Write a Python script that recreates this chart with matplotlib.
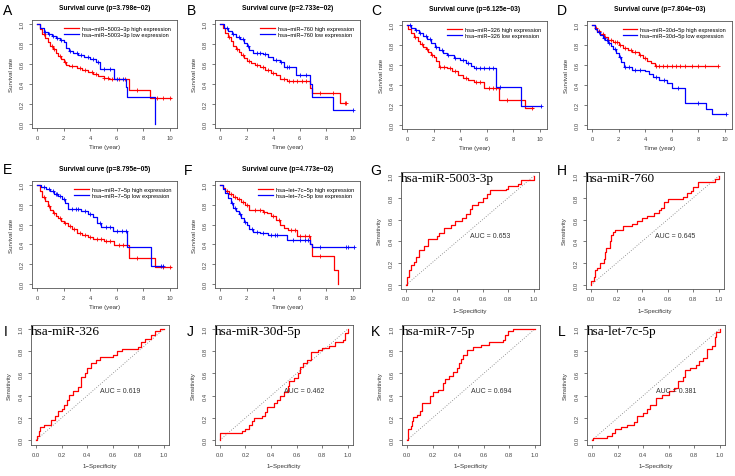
import numpy as np
import matplotlib
matplotlib.use("Agg")
import matplotlib.pyplot as plt

plt.rcParams['font.family'] = ['Liberation Sans', 'DejaVu Sans']

W, H = 735, 477

# ---------------- Survival data (times where step changes, survival after step) ----------------
surv_panels = [
    dict(letter="A", gene="hsa−miR−5003−3p", p="3.798e−02",
         ht=[0, 0.2, 0.4, 0.6, 0.8, 1.0, 1.2, 1.4, 1.6, 1.8, 2.0, 2.2, 2.4, 3.0, 3.4, 3.8, 4.2, 4.6, 5.0, 5.4, 6.9, 8.5],
         hs=[1.0, 0.95, 0.90, 0.86, 0.82, 0.78, 0.75, 0.71, 0.68, 0.65, 0.62, 0.59, 0.58, 0.56, 0.54, 0.52, 0.50, 0.48, 0.46, 0.45, 0.34, 0.26],
         hend=10.1,
         hc=[0.5, 1.1, 1.3, 1.7, 2.1, 2.6, 3.2, 3.6, 4.1, 4.4, 5.0, 5.3, 5.6, 6.2, 6.6, 7.5, 9.0, 9.5, 10.0],
         lt=[0, 0.2, 0.5, 0.8, 1.1, 1.4, 1.7, 2.0, 2.2, 2.4, 2.7, 3.1, 3.5, 4.0, 4.4, 4.7, 5.8, 6.7, 6.8, 8.9],
         ls=[1.0, 0.96, 0.92, 0.90, 0.88, 0.86, 0.84, 0.82, 0.76, 0.73, 0.71, 0.69, 0.67, 0.65, 0.62, 0.55, 0.45, 0.37, 0.27, 0.0],
         lend=8.9,
         lc=[0.6, 0.9, 1.2, 1.5, 1.8, 2.5, 3.0, 3.3, 3.8, 4.2, 4.6, 5.0, 5.5, 6.0, 6.5]),
    dict(letter="B", gene="hsa−miR−760", p="2.733e−02",
         ht=[0, 0.2, 0.4, 0.6, 0.8, 1.0, 1.2, 1.4, 1.6, 1.8, 2.0, 2.3, 2.6, 3.0, 3.4, 3.8, 4.2, 4.5, 5.0, 6.8, 6.9, 9.0],
         hs=[1.0, 0.96, 0.91, 0.87, 0.83, 0.78, 0.75, 0.72, 0.69, 0.66, 0.63, 0.61, 0.59, 0.57, 0.54, 0.51, 0.49, 0.45, 0.43, 0.36, 0.31, 0.21],
         hend=9.5,
         hc=[0.7, 1.3, 1.7, 2.2, 2.8, 3.2, 3.6, 4.0, 4.8, 5.2, 5.5, 5.8, 6.2, 6.5, 7.5, 8.5, 9.4, 9.5],
         lt=[0, 0.3, 0.6, 0.9, 1.2, 1.5, 1.8, 2.0, 2.2, 2.5, 3.2, 3.6, 4.0, 4.5, 4.8, 5.7, 6.8, 6.9, 8.5],
         ls=[1.0, 0.96, 0.93, 0.90, 0.87, 0.85, 0.81, 0.78, 0.74, 0.71, 0.70, 0.67, 0.64, 0.62, 0.57, 0.49, 0.40, 0.27, 0.14],
         lend=10.0,
         lc=[0.5, 1.0, 1.4, 1.7, 2.1, 2.8, 3.0, 3.4, 4.2, 4.6, 5.0, 5.2, 6.0, 6.5, 10.0]),
    dict(letter="C", gene="hsa−miR−326", p="6.125e−03",
         ht=[0, 0.1, 0.3, 0.5, 0.8, 1.0, 1.2, 1.4, 1.6, 1.8, 2.0, 2.2, 2.4, 3.0, 3.4, 3.8, 4.2, 4.6, 5.0, 5.8, 6.9, 8.9],
         hs=[1.0, 0.96, 0.92, 0.88, 0.84, 0.81, 0.78, 0.76, 0.73, 0.70, 0.68, 0.64, 0.58, 0.57, 0.54, 0.50, 0.47, 0.45, 0.43, 0.37, 0.25, 0.17],
         hend=9.5,
         hc=[0.6, 1.1, 1.5, 1.9, 2.5, 2.8, 3.2, 3.6, 4.4, 5.2, 5.5, 6.2, 6.5, 6.7, 7.5, 9.4],
         lt=[0, 0.3, 0.6, 0.9, 1.2, 1.5, 1.8, 2.1, 2.4, 2.7, 3.0, 3.5, 4.0, 4.4, 4.8, 5.0, 6.7, 8.6],
         ls=[1.0, 0.97, 0.95, 0.92, 0.89, 0.86, 0.82, 0.78, 0.75, 0.72, 0.70, 0.67, 0.65, 0.62, 0.59, 0.57, 0.38, 0.19],
         lend=10.1,
         lc=[0.2, 0.7, 1.0, 1.4, 1.7, 2.2, 2.6, 3.1, 3.6, 4.2, 4.6, 5.2, 5.5, 5.8, 6.2, 6.5, 7.0, 10.1]),
    dict(letter="D", gene="hsa−miR−30d−5p", p="7.804e−03",
         ht=[0, 0.2, 0.4, 0.6, 0.9, 1.2, 1.6, 2.0, 2.3, 2.7, 3.0, 3.5, 3.8, 4.1, 4.4, 4.7],
         hs=[1.0, 0.97, 0.94, 0.91, 0.88, 0.85, 0.83, 0.80, 0.77, 0.75, 0.73, 0.70, 0.67, 0.64, 0.62, 0.59],
         hend=9.5,
         hc=[0.3, 0.5, 0.8, 1.0, 1.4, 1.7, 1.9, 2.1, 2.5, 2.9, 3.2, 3.6, 4.0, 4.8, 5.0, 5.3, 5.6, 6.0, 6.3, 6.6, 7.0, 7.5, 8.0, 8.5, 9.5],
         lt=[0, 0.2, 0.4, 0.6, 0.8, 1.0, 1.2, 1.4, 1.6, 1.8, 2.0, 2.2, 2.4, 3.0, 4.0, 4.3, 4.6, 5.0, 5.6, 6.0, 7.0, 8.6, 9.0],
         ls=[1.0, 0.96, 0.93, 0.90, 0.87, 0.85, 0.82, 0.79, 0.76, 0.72, 0.68, 0.63, 0.58, 0.55, 0.54, 0.51, 0.48, 0.45, 0.42, 0.37, 0.22, 0.16, 0.11],
         lend=10.1,
         lc=[0.5, 0.9, 1.1, 1.3, 1.7, 2.1, 2.5, 2.8, 3.2, 3.6, 4.8, 5.4, 6.5, 8.0, 10.1]),
    dict(letter="E", gene="hsa−miR−7−5p", p="8.795e−05",
         ht=[0, 0.2, 0.4, 0.6, 0.8, 1.0, 1.2, 1.4, 1.6, 1.8, 2.0, 2.3, 2.6, 3.0, 3.4, 3.8, 4.2, 5.0, 5.8, 6.9, 8.9],
         hs=[1.0, 0.94, 0.88, 0.84, 0.79, 0.75, 0.72, 0.69, 0.67, 0.64, 0.62, 0.59, 0.56, 0.52, 0.49, 0.47, 0.45, 0.43, 0.39, 0.26, 0.17],
         hend=10.1,
         hc=[0.5, 0.9, 1.3, 1.7, 2.1, 2.5, 2.8, 3.2, 3.6, 4.0, 4.5, 4.8, 5.2, 5.5, 6.2, 6.5, 7.5, 9.5, 10.0],
         lt=[0, 0.3, 0.7, 1.0, 1.3, 1.6, 1.9, 2.1, 2.3, 3.3, 3.8, 4.2, 4.5, 4.8, 5.7, 6.8, 8.6],
         ls=[1.0, 0.98, 0.96, 0.94, 0.91, 0.89, 0.86, 0.82, 0.76, 0.74, 0.71, 0.68, 0.62, 0.58, 0.54, 0.37, 0.18],
         lend=9.5,
         lc=[0.5, 0.9, 1.2, 1.4, 1.5, 1.7, 2.0, 2.6, 2.9, 3.1, 3.6, 4.0, 4.7, 5.2, 5.5, 6.0, 6.4, 6.7, 9.3, 9.5]),
    dict(letter="F", gene="hsa−let−7c−5p", p="4.773e−02",
         ht=[0, 0.2, 0.4, 0.7, 1.0, 1.3, 1.6, 1.9, 2.2, 3.2, 3.5, 3.8, 4.2, 4.5, 4.8, 5.1, 5.8, 6.8, 6.9, 8.6, 8.9],
         hs=[1.0, 0.97, 0.94, 0.91, 0.88, 0.86, 0.83, 0.80, 0.75, 0.73, 0.72, 0.69, 0.65, 0.60, 0.57, 0.55, 0.48, 0.40, 0.28, 0.14, 0.0],
         hend=8.9,
         hc=[0.5, 0.8, 1.1, 1.4, 1.7, 2.0, 2.6, 3.0, 3.3, 4.0, 4.4, 5.3, 5.6, 6.0, 6.4, 6.7, 7.5],
         lt=[0, 0.2, 0.4, 0.6, 0.8, 1.0, 1.2, 1.4, 1.6, 1.8, 2.0, 2.2, 2.5, 3.0, 3.6, 4.5, 5.0, 6.8, 6.9],
         ls=[1.0, 0.96, 0.92, 0.87, 0.82, 0.77, 0.74, 0.71, 0.67, 0.63, 0.60, 0.56, 0.53, 0.52, 0.50, 0.49, 0.44, 0.40, 0.37],
         lend=10.1,
         lc=[0.9, 1.1, 1.5, 1.9, 2.4, 2.8, 3.2, 3.8, 4.1, 4.3, 5.5, 6.0, 6.4, 6.6, 7.5, 9.5, 9.6, 10.1]),
]

# ---------------- ROC data (staircase vertices) ----------------
roc_panels = [
    dict(letter="G", gene="hsa-miR-5003-3p", auc="0.653",
         fpr=[0, 0.01, 0.02, 0.04, 0.06, 0.08, 0.10, 0.14, 0.17, 0.24, 0.26, 0.30, 0.35, 0.38, 0.44, 0.47, 0.50, 0.52, 0.56, 0.60, 0.63, 0.66, 0.78, 0.80, 0.88, 0.90, 1.0],
         tpr=[0, 0.07, 0.14, 0.18, 0.21, 0.26, 0.32, 0.36, 0.42, 0.45, 0.48, 0.52, 0.55, 0.59, 0.61, 0.65, 0.70, 0.73, 0.76, 0.80, 0.83, 0.87, 0.88, 0.91, 0.93, 0.96, 1.0]),
    dict(letter="H", gene="hsa-miR-760", auc="0.645",
         fpr=[0, 0.0, 0.02, 0.03, 0.05, 0.07, 0.10, 0.11, 0.12, 0.15, 0.16, 0.17, 0.19, 0.25, 0.32, 0.36, 0.40, 0.44, 0.49, 0.53, 0.55, 0.57, 0.60, 0.72, 0.75, 0.78, 0.80, 0.84, 0.94, 0.97, 1.0],
         tpr=[0, 0.04, 0.07, 0.14, 0.16, 0.20, 0.24, 0.30, 0.34, 0.40, 0.46, 0.49, 0.50, 0.54, 0.56, 0.59, 0.61, 0.63, 0.66, 0.69, 0.71, 0.76, 0.79, 0.81, 0.84, 0.86, 0.90, 0.94, 0.94, 0.97, 1.0]),
    dict(letter="I", gene="hsa-miR-326", auc="0.619",
         fpr=[0, 0.01, 0.02, 0.03, 0.06, 0.12, 0.15, 0.17, 0.20, 0.22, 0.24, 0.26, 0.29, 0.33, 0.35, 0.38, 0.40, 0.43, 0.47, 0.50, 0.60, 0.63, 0.67, 0.80, 0.82, 0.85, 0.90, 0.93, 0.97, 1.0],
         tpr=[0, 0.04, 0.08, 0.12, 0.14, 0.18, 0.22, 0.26, 0.28, 0.32, 0.36, 0.41, 0.44, 0.48, 0.57, 0.60, 0.65, 0.69, 0.72, 0.75, 0.77, 0.80, 0.82, 0.84, 0.88, 0.91, 0.95, 0.98, 1.0, 1.0]),
    dict(letter="J", gene="hsa-miR-30d-5p", auc="0.462",
         fpr=[0, 0.0, 0.15, 0.17, 0.20, 0.23, 0.25, 0.27, 0.33, 0.35, 0.37, 0.42, 0.45, 0.47, 0.50, 0.53, 0.54, 0.58, 0.61, 0.63, 0.65, 0.68, 0.71, 0.77, 0.80, 0.85, 0.90, 0.96, 0.98, 1.0],
         tpr=[0, 0.06, 0.06, 0.08, 0.10, 0.14, 0.17, 0.20, 0.22, 0.25, 0.30, 0.33, 0.36, 0.40, 0.43, 0.49, 0.53, 0.56, 0.60, 0.66, 0.69, 0.72, 0.79, 0.81, 0.83, 0.85, 0.88, 0.90, 0.96, 1.0]),
    dict(letter="K", gene="hsa-miR-7-5p", auc="0.694",
         fpr=[0, 0.01, 0.01, 0.03, 0.04, 0.05, 0.08, 0.10, 0.12, 0.17, 0.18, 0.20, 0.24, 0.28, 0.30, 0.33, 0.36, 0.39, 0.41, 0.42, 0.44, 0.47, 0.52, 0.58, 0.64, 0.75, 0.77, 0.79, 0.83, 1.0],
         tpr=[0, 0.05, 0.10, 0.13, 0.17, 0.21, 0.23, 0.26, 0.33, 0.33, 0.40, 0.43, 0.45, 0.51, 0.55, 0.58, 0.61, 0.65, 0.69, 0.73, 0.77, 0.81, 0.84, 0.86, 0.88, 0.90, 0.95, 0.98, 1.0, 1.0]),
    dict(letter="L", gene="hsa-let-7c-5p", auc="0.381",
         fpr=[0, 0.01, 0.11, 0.12, 0.16, 0.18, 0.23, 0.27, 0.33, 0.35, 0.40, 0.43, 0.45, 0.50, 0.55, 0.60, 0.64, 0.67, 0.71, 0.73, 0.77, 0.81, 0.84, 0.87, 0.90, 0.94, 0.96, 0.97, 1.0],
         tpr=[0, 0.02, 0.02, 0.04, 0.06, 0.10, 0.12, 0.14, 0.16, 0.22, 0.24, 0.28, 0.32, 0.38, 0.41, 0.44, 0.47, 0.53, 0.57, 0.63, 0.65, 0.68, 0.71, 0.74, 0.82, 0.85, 0.93, 0.97, 1.0]),
]

# ---------------- Layout (pixels) ----------------
surv_pos = [(31.7, 21), (214.7, 21), (401.7, 22), (586.7, 22), (31.7, 182), (214.7, 182)]
roc_pos = [(400.9, 172.6, 117.7), (585.9, 172.6, 117.7), (30.9, 325.6, 120), (214.8, 325.6, 120),
           (401.9, 325.6, 120), (586.9, 325.6, 120)]
letter_pos = {"A": (8, 11), "B": (191, 11), "C": (376, 11), "D": (562, 11), "E": (7, 170), "F": (188, 171),
              "G": (376, 171), "H": (562, 171), "I": (6, 332), "J": (190, 332), "K": (376, 332), "L": (562, 332)}

fig = plt.figure(figsize=(W / 100, H / 100), dpi=100)
AX_COL = '#555555'


def add_ax(l, t, w, h):
    return fig.add_axes([l / W, 1 - (t + h) / H, w / W, h / H])


def style(ax):
    for s in ax.spines.values():
        s.set_color(AX_COL)
        s.set_linewidth(0.6)
    ax.tick_params(length=2.5, width=0.5, labelsize=4.2, pad=2.5, colors='#444444')
    for lab in ax.get_yticklabels():
        lab.set_rotation(90)
        lab.set_va('center')


def step_at(t, s, x):
    idx = np.searchsorted(np.asarray(t), np.asarray(x), side='right') - 1
    return np.asarray(s)[idx]


for pnl, (l, t) in zip(surv_panels, surv_pos):
    ax = add_ax(l, t, 145, 108 if t < 100 else 107)
    for key, col, lab in (("h", 'red', "high expression"), ("l", 'blue', "low expression")):
        tt = list(pnl[key + "t"]) + [pnl[key + "end"]]
        ss = list(pnl[key + "s"]) + [pnl[key + "s"][-1]]
        ax.step(tt, ss, where='post', color=col, lw=0.9, label=f"{pnl['gene']} {lab}")
        cx = np.asarray(pnl[key + "c"])
        ax.plot(cx, step_at(pnl[key + "t"], pnl[key + "s"], cx), ls='none', marker='+',
                color=col, ms=3, mew=0.6)
    ax.set_xlim(-0.4, 10.5)
    ax.set_ylim(-0.04, 1.04)
    ax.set_xticks([0, 2, 4, 6, 8, 10])
    ax.set_yticks([0, 0.2, 0.4, 0.6, 0.8, 1.0])
    ax.set_yticklabels(["0.0", "0.2", "0.4", "0.6", "0.8", "1.0"])
    style(ax)
    ax.set_xlabel("Time (year)", fontsize=4.4, labelpad=3, color='#333333')
    ax.set_ylabel("Survival rate", fontsize=4.4, labelpad=4, color='#333333')
    ax.set_title(f"Survival curve (p={pnl['p']})", fontsize=4.8, fontweight='bold', pad=8)
    ax.legend(loc='upper right', frameon=False, fontsize=4.1, handlelength=2.6, handletextpad=0.5,
              labelspacing=0.25, borderaxespad=0.6)

for pnl, (l, t, h) in zip(roc_panels, roc_pos):
    ax = add_ax(l, t, 138, h)
    ax.plot([0, 1], [0, 1], ls=(0, (1, 2)), color='#777777', lw=0.6)
    ax.step(pnl["fpr"], pnl["tpr"], where='post', color='red', lw=0.9)
    ax.set_xlim(-0.04, 1.04)
    ax.set_ylim(-0.04, 1.04)
    ticks = [0, 0.2, 0.4, 0.6, 0.8, 1.0]
    tl = ["0.0", "0.2", "0.4", "0.6", "0.8", "1.0"]
    ax.set_xticks(ticks)
    ax.set_xticklabels(tl)
    ax.set_yticks(ticks)
    ax.set_yticklabels(tl)
    style(ax)
    ax.set_xlabel("1−Specificity", fontsize=4.4, labelpad=5, color='#333333')
    ax.set_ylabel("Sensitivity", fontsize=4.4, labelpad=5, color='#333333')
    ax.text(0.5, 0.45, f"AUC = {pnl['auc']}", fontsize=5, ha='left', va='center', color='#333333')
    ax.text(0.0, 1.0, pnl["gene"], transform=ax.transAxes, fontsize=9.5, ha='left', va='top',
            family='Liberation Serif')

for k, (x, y) in letter_pos.items():
    fig.text(x / W, 1 - y / H, k, fontsize=10, ha='center', va='center')

fig.savefig("out.png", dpi=100)
